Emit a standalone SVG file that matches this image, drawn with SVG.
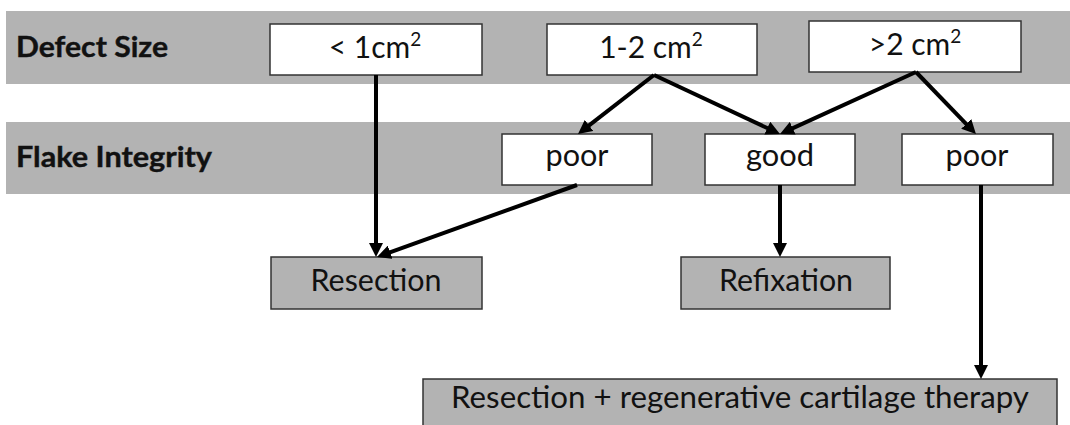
<svg xmlns="http://www.w3.org/2000/svg" width="1070" height="425" viewBox="0 0 1070 425">
  <style>
    .band { fill: #b3b3b3; }
    .band-label { font-family: Lato, "Liberation Sans", sans-serif; font-weight: 700; font-size: 28px; fill: #111; stroke: #111; stroke-width: 0.4; }
    .box { fill: #ffffff; stroke: #333333; stroke-width: 1.5; }
    .result { fill: #b3b3b3; stroke: #333333; stroke-width: 1.5; }
    .txt { font-family: Lato, "Liberation Sans", sans-serif; font-size: 30px; fill: #111; text-anchor: middle; }
    .sup { font-size: 19px; }
    .conn { stroke: #000; stroke-width: 4; fill: none; marker-end: url(#arrow); }
  </style>
  <defs>
    <marker id="arrow" markerUnits="userSpaceOnUse" markerWidth="14" markerHeight="14" refX="4" refY="7" orient="auto">
      <path d="M0,0 L14,7 L0,14 z" fill="#000"/>
    </marker>
  </defs>

  <rect width="1070" height="425" fill="#ffffff"/>

  <!-- row bands -->
  <g id="band-defect-size">
    <rect class="band" x="6" y="11" width="1064" height="73"/>
    <text class="band-label" x="16" y="57" textLength="152" lengthAdjust="spacingAndGlyphs">Defect Size</text>
  </g>
  <g id="band-flake-integrity">
    <rect class="band" x="6" y="122" width="1064" height="72"/>
    <text class="band-label" x="16" y="167" textLength="196" lengthAdjust="spacingAndGlyphs">Flake Integrity</text>
  </g>

  <!-- defect size nodes -->
  <g id="size-small">
    <rect class="box" x="270" y="24" width="212" height="51"/>
    <text class="txt" x="375" y="58">&lt; 1cm<tspan class="sup" dy="-12">2</tspan></text>
  </g>
  <g id="size-medium">
    <rect class="box" x="547" y="24" width="210" height="51"/>
    <text class="txt" x="651" y="58">1-2 cm<tspan class="sup" dy="-12">2</tspan></text>
  </g>
  <g id="size-large">
    <rect class="box" x="809" y="21" width="212" height="51"/>
    <text class="txt" x="915" y="55">&gt;2 cm<tspan class="sup" dy="-12">2</tspan></text>
  </g>

  <!-- flake integrity nodes -->
  <g id="flake-poor-medium">
    <rect class="box" x="502" y="134" width="150" height="51"/>
    <text class="txt" x="577" y="166" textLength="63" lengthAdjust="spacingAndGlyphs">poor</text>
  </g>
  <g id="flake-good">
    <rect class="box" x="705" y="134" width="150" height="51"/>
    <text class="txt" x="780" y="166" textLength="68" lengthAdjust="spacingAndGlyphs">good</text>
  </g>
  <g id="flake-poor-large">
    <rect class="box" x="902" y="134" width="151" height="51"/>
    <text class="txt" x="977" y="166" textLength="63" lengthAdjust="spacingAndGlyphs">poor</text>
  </g>

  <!-- treatment nodes -->
  <g id="resection">
    <rect class="result" x="271" y="257" width="211" height="52"/>
    <text class="txt" x="376" y="291" textLength="131" lengthAdjust="spacingAndGlyphs">Resection</text>
  </g>
  <g id="refixation">
    <rect class="result" x="681" y="257" width="209" height="52"/>
    <text class="txt" x="786" y="291" textLength="134" lengthAdjust="spacingAndGlyphs">Refixation</text>
  </g>
  <g id="resection-regenerative">
    <rect class="result" x="423" y="379" width="634" height="60"/>
    <text class="txt" x="740" y="408" textLength="578" lengthAdjust="spacingAndGlyphs">Resection + regenerative cartilage therapy</text>
  </g>

  <!-- connectors -->
  <g id="connectors">
    <line class="conn" x1="376" y1="75" x2="376" y2="247"/>
    <line class="conn" x1="654" y1="75" x2="585.9" y2="127.9"/>
    <line class="conn" x1="654" y1="75" x2="770.9" y2="129.8"/>
    <line class="conn" x1="916" y1="72" x2="789.1" y2="129.9"/>
    <line class="conn" x1="916" y1="72" x2="969" y2="126.8"/>
    <line class="conn" x1="577" y1="185" x2="386.4" y2="253.6"/>
    <line class="conn" x1="780" y1="185" x2="780" y2="247"/>
    <line class="conn" x1="981" y1="185" x2="981" y2="369"/>
  </g>
</svg>
